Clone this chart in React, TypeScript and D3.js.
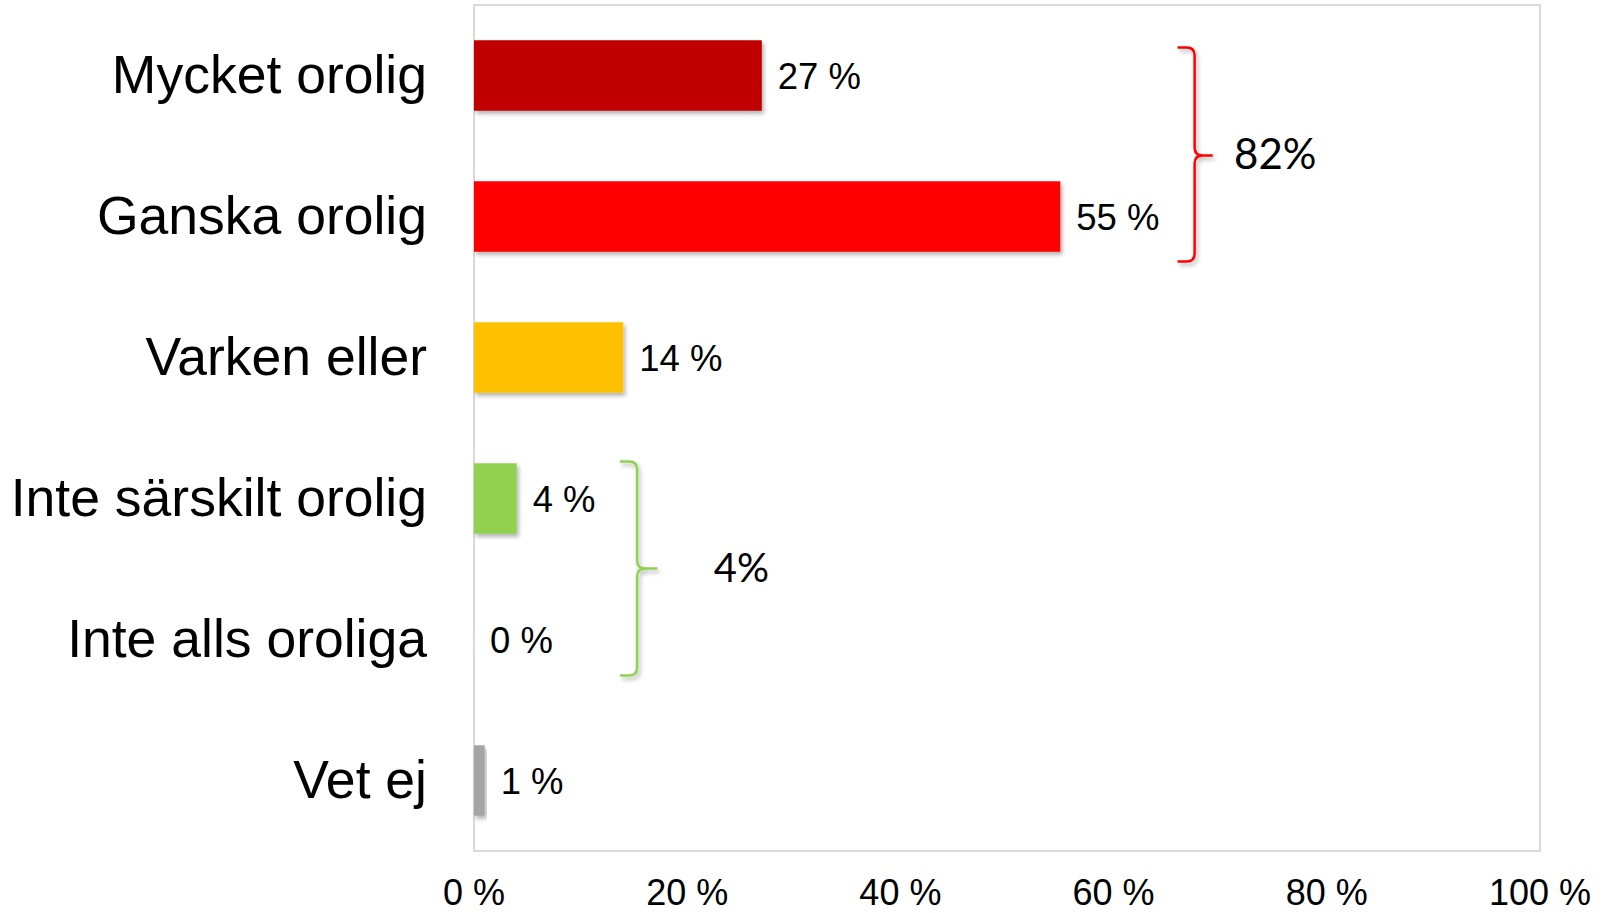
import React, { useRef, useEffect } from "react";
import * as d3 from "d3";

const categories = [
  "Mycket orolig",
  "Ganska orolig",
  "Varken eller",
  "Inte särskilt orolig",
  "Inte alls oroliga",
  "Vet ej",
];
const values = [27, 55, 14, 4, 0, 1];
const xTicks = [0, 20, 40, 60, 80, 100];
const barColors = ["#C00000", "#FF0000", "#FFC000", "#92D050", "#92D050", "#A5A5A5"];

// summary brackets: which categories they group and the total shown
const groupFrom = ["Mycket orolig", "Inte särskilt orolig"];
const groupTo = ["Ganska orolig", "Inte alls oroliga"];
const groupLabels = ["82%", "4%"];
const groupColors = ["#FF0000", "#92D050"];

const App = () => {
  const svgRef = useRef<SVGSVGElement>(null);

  useEffect(() => {
    document.body.style.margin = "0";
    const width = 1610, height = 913;
    const margin = { top: 5, right: 70, bottom: 62, left: 474 };

    const svg = d3.select(svgRef.current)
      .attr("width", width)
      .attr("height", height)
      .style("background", "#fff");
    svg.selectAll("*").remove();

    const defs = svg.append("defs");
    const shadow = defs.append("filter")
      .attr("id", "shadow")
      .attr("x", "-20%").attr("y", "-20%")
      .attr("width", "140%").attr("height", "140%");
    shadow.append("feDropShadow")
      .attr("dx", 2).attr("dy", 3)
      .attr("stdDeviation", 2)
      .attr("flood-color", "#000")
      .attr("flood-opacity", 0.3);

    const x = d3.scaleLinear()
      .domain([0, 100])
      .range([margin.left, width - margin.right]);

    const y = d3.scaleBand()
      .domain(categories)
      .range([margin.top, height - margin.bottom])
      .paddingInner(0.5)
      .paddingOuter(0.25);

    // Plot frame
    svg.append("rect")
      .attr("x", x(0))
      .attr("y", margin.top)
      .attr("width", x(100) - x(0))
      .attr("height", height - margin.bottom - margin.top)
      .attr("fill", "none")
      .attr("stroke", "#D9D9D9")
      .attr("stroke-width", 2);

    // Bars
    svg.selectAll(".bar")
      .data(values)
      .enter().append("rect")
      .attr("class", "bar")
      .attr("x", x(0))
      .attr("y", (_, i) => y(categories[i]))
      .attr("width", d => x(d) - x(0))
      .attr("height", y.bandwidth())
      .attr("fill", (_, i) => barColors[i])
      .attr("filter", d => (d > 0 ? "url(#shadow)" : null));

    // Value labels
    svg.selectAll(".val")
      .data(values)
      .enter().append("text")
      .attr("class", "val")
      .attr("x", d => x(d) + 16)
      .attr("y", (_, i) => y(categories[i]) + y.bandwidth() / 2 + 13)
      .style("font-family", "Liberation Sans, Arial, sans-serif")
      .style("font-size", "36.5px")
      .attr("fill", "#000")
      .text(d => `${d} %`);

    // Category labels
    svg.selectAll(".cat")
      .data(categories)
      .enter().append("text")
      .attr("class", "cat")
      .attr("x", 427)
      .attr("y", d => y(d) + y.bandwidth() / 2 + 17)
      .attr("text-anchor", "end")
      .style("font-family", "Liberation Sans, Arial, sans-serif")
      .style("font-size", "53.5px")
      .attr("fill", "#000")
      .text(d => d);

    // X tick labels
    svg.selectAll(".tick")
      .data(xTicks)
      .enter().append("text")
      .attr("class", "tick")
      .attr("x", d => x(d))
      .attr("y", 905)
      .attr("text-anchor", "middle")
      .style("font-family", "Liberation Sans, Arial, sans-serif")
      .style("font-size", "36px")
      .attr("fill", "#000")
      .text(d => `${d} %`);

    // Curly brackets
    const brace = (xa, xv, xt, y0, ym, y1) => {
      const r = 8;
      return `M${xa},${y0} L${xv - r},${y0} Q${xv},${y0} ${xv},${y0 + r}` +
        ` L${xv},${ym - r} Q${xv},${ym} ${xv + r},${ym} L${xt},${ym}` +
        ` M${xv + r},${ym} Q${xv},${ym} ${xv},${ym + r}` +
        ` L${xv},${y1 - r} Q${xv},${y1} ${xv - r},${y1} L${xa},${y1}`;
    };

    const braceX = [[66.0, 67.6, 69.3], [13.7, 15.3, 17.2]];
    const braceTop = [-28, -37];
    const braceBottom = [45, 36];
    const labelX = [71.3, 22.5];
    const labelSize = [42, 40];

    groupLabels.forEach((label, i) => {
      const y0 = y(groupFrom[i]) + y.bandwidth() / 2 + braceTop[i];
      const y1 = y(groupTo[i]) + y.bandwidth() / 2 + braceBottom[i];
      const ym = i === 0 ? y0 + (y1 - y0) * 0.505 : (y0 + y1) / 2;
      svg.append("path")
        .attr("d", brace(x(braceX[i][0]), x(braceX[i][1]), x(braceX[i][2]), y0, ym, y1))
        .attr("fill", "none")
        .attr("stroke", groupColors[i])
        .attr("stroke-width", 2.5)
        .attr("filter", "url(#shadow)");

      svg.append("text")
        .attr("x", x(labelX[i]))
        .attr("y", ym + 13)
        .style("font-family", "Lato, Open Sans, sans-serif")
        .style("font-size", `${labelSize[i]}px`)
        .attr("fill", "#000")
        .text(label);
    });
  }, []);

  return (
    <div style={{ position: "relative" }}>
      <svg ref={svgRef} style={{ display: "block" }}></svg>
    </div>
  );
};

export default App;
